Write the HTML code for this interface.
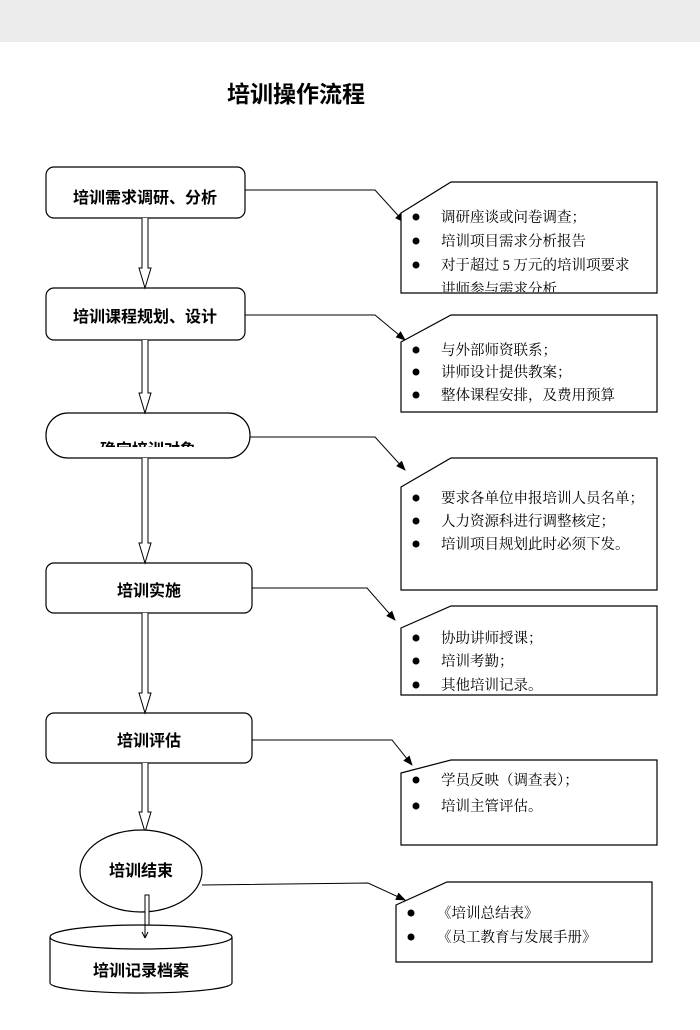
<!DOCTYPE html>
<html><head><meta charset="utf-8"><style>
body{margin:0;background:#fff}
svg{display:block}
.b{font-family:"Liberation Sans","Noto Sans CJK SC",sans-serif;font-weight:bold;font-size:16px;fill:#000}
.n{font-family:"Liberation Serif","Noto Serif CJK SC",serif;font-size:14.5px;fill:#000}
</style></head><body>
<svg width="700" height="1030" viewBox="0 0 700 1030" xmlns="http://www.w3.org/2000/svg">
<defs>
<marker id="a" markerWidth="10" markerHeight="10" refX="9" refY="5" orient="auto" markerUnits="userSpaceOnUse"><path d="M0,1 L10,5 L0,9 z" fill="#000"/></marker>
<clipPath id="c1"><rect x="401" y="182" width="256" height="110"/></clipPath>
<clipPath id="c3"><rect x="40" y="410" width="220" height="37"/></clipPath>
</defs>
<rect x="0" y="0" width="700" height="42" fill="#ebebeb"/>
<text x="227" y="102" font-family="Liberation Sans,'Noto Sans CJK SC',sans-serif" font-weight="bold" font-size="23" fill="#000">培训操作流程</text>

<g fill="#fff" stroke="#000" stroke-width="1.2">
<rect x="46" y="167" width="199" height="51" rx="8"/>
<rect x="46" y="288" width="199" height="52" rx="8"/>
<rect x="46" y="413" width="204" height="45" rx="22"/>
<rect x="46" y="563" width="206" height="50" rx="8"/>
<rect x="46" y="713" width="206" height="50" rx="8"/>
</g>
<text class="b" x="145" y="203" text-anchor="middle">培训需求调研、分析</text>
<text class="b" x="145" y="322" text-anchor="middle">培训课程规划、设计</text>
<text class="b" x="148" y="455" text-anchor="middle" clip-path="url(#c3)">确定培训对象</text>
<text class="b" x="149" y="596" text-anchor="middle">培训实施</text>
<text class="b" x="149" y="746" text-anchor="middle">培训评估</text>

<g fill="#fff" stroke="#000" stroke-width="1">
<path d="M142,218 V268 L139,268 L145,288 L151,268 L148,268 V218"/>
<path d="M142,340 V393 L139,393 L145,413 L151,393 L148,393 V340"/>
<path d="M142,458 V543 L139,543 L145,563 L151,543 L148,543 V458"/>
<path d="M142,613 V693 L139,693 L145,713 L151,693 L148,693 V613"/>
<path d="M142,763 V812 L139,812 L145,832 L151,812 L148,812 V763"/>
</g>
<ellipse cx="141" cy="871" rx="61" ry="41" fill="#fff" stroke="#000" stroke-width="1.2"/>
<text class="b" x="141" y="876" text-anchor="middle">培训结束</text>
<path d="M145,912 V927 L142,927 L147,939 L152,927 L149,927 V912 M145,912 L145,895 L149,895 L149,912" fill="#fff" stroke="#000"/>
<path d="M50,937 V983 A91,10 0 0 0 232,983 V937" fill="#fff" stroke="#000" stroke-width="1.2"/>
<ellipse cx="141" cy="937" rx="91" ry="12" fill="#fff" stroke="#000" stroke-width="1.2"/>
<path d="M145,925 V938 L142,932 M145,938 L148,932" stroke="#000" fill="none"/>
<text class="b" x="141" y="976" text-anchor="middle">培训记录档案</text>

<g fill="none" stroke="#000" stroke-width="1">
<polyline points="245,190 375,190 404,222" marker-end="url(#a)"/>
<polyline points="245,315 375,315 405,340" marker-end="url(#a)"/>
<polyline points="250,437 375,437 405,470" marker-end="url(#a)"/>
<polyline points="252,588 367,588 395,620" marker-end="url(#a)"/>
<polyline points="252,740 392,740 412,765" marker-end="url(#a)"/>
<polyline points="202,885 368,883 405,900" marker-end="url(#a)"/>
</g>

<g fill="#fff" stroke="#000" stroke-width="1.2">
<polygon points="401,213 451,182 657,182 657,293 401,293"/>
<polygon points="401,342 451,315 657,315 657,412 401,412"/>
<polygon points="401,487 451,458 657,458 657,590 401,590"/>
<polygon points="401,628 451,606 657,606 657,695 401,695"/>
<polygon points="401,773 451,760 657,760 657,845 401,845"/>
<polygon points="396,905 447,882 652,882 652,962 396,962"/>
</g>
<g fill="#000">
<circle cx="416" cy="217" r="3.5"/><circle cx="416" cy="241" r="3.5"/><circle cx="416" cy="265" r="3.5"/>
<circle cx="416" cy="350" r="3.5"/><circle cx="416" cy="372" r="3.5"/><circle cx="416" cy="395" r="3.5"/>
<circle cx="416" cy="498" r="3.5"/><circle cx="416" cy="521" r="3.5"/><circle cx="416" cy="544" r="3.5"/>
<circle cx="416" cy="638" r="3.5"/><circle cx="416" cy="661" r="3.5"/><circle cx="416" cy="685" r="3.5"/>
<circle cx="416" cy="780" r="3.5"/><circle cx="416" cy="806" r="3.5"/>
<circle cx="411" cy="913" r="3.5"/><circle cx="411" cy="937" r="3.5"/>
</g>
<g class="n">
<text x="441" y="222">调研座谈或问卷调查；</text>
<text x="441" y="246">培训项目需求分析报告</text>
<text x="441" y="270">对于超过 5 万元的培训项要求</text>
<text x="441" y="294" clip-path="url(#c1)">讲师参与需求分析</text>
<text x="441" y="355">与外部师资联系；</text>
<text x="441" y="377">讲师设计提供教案；</text>
<text x="441" y="400">整体课程安排，及费用预算</text>
<text x="441" y="503">要求各单位申报培训人员名单；</text>
<text x="441" y="526">人力资源科进行调整核定；</text>
<text x="441" y="549">培训项目规划此时必须下发。</text>
<text x="441" y="643">协助讲师授课；</text>
<text x="441" y="666">培训考勤；</text>
<text x="441" y="690">其他培训记录。</text>
<text x="441" y="785">学员反映（调查表）；</text>
<text x="441" y="811">培训主管评估。</text>
<text x="437" y="918">《培训总结表》</text>
<text x="437" y="942">《员工教育与发展手册》</text>
</g>
</svg>
</body></html>
